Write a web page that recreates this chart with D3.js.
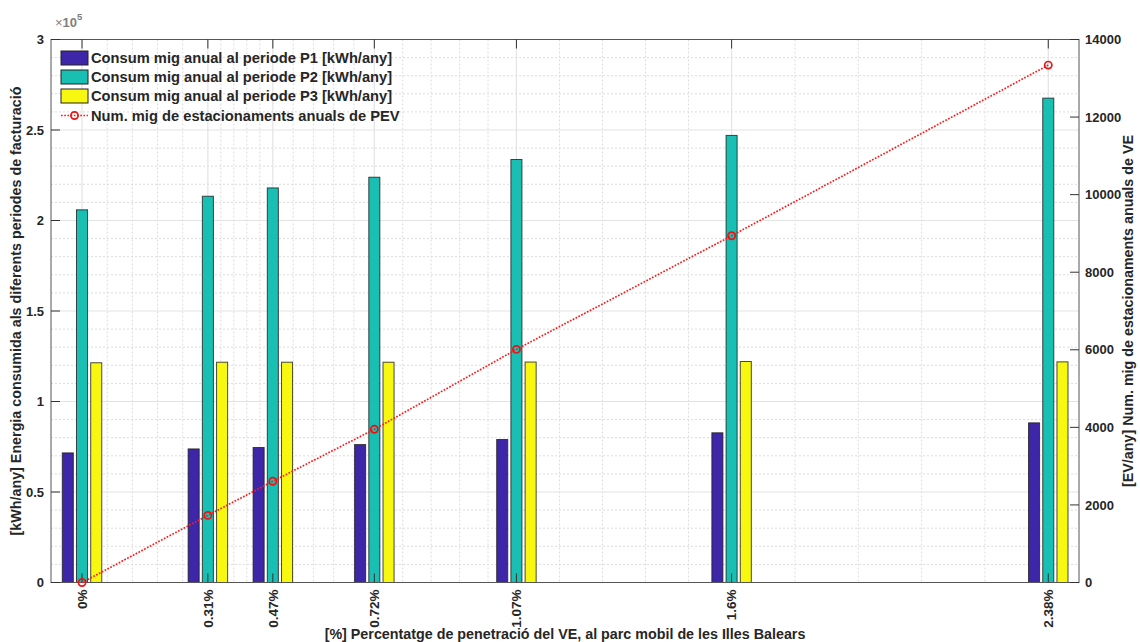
<!DOCTYPE html>
<html>
<head>
<meta charset="utf-8">
<script src="https://cdn.jsdelivr.net/npm/d3@7"></script>
<style>
  body { margin: 0; background: #fff; }
  svg { display: block; }
  text { font-family: "Liberation Sans", Arial, Helvetica, sans-serif; font-weight: bold; fill: #262626; }
</style>
</head>
<body>
<svg id="chart" width="1140" height="642"></svg>
<script>
// Penetration of EVs in the Balearic vehicle fleet (%)
const penetration = [0, 0.31, 0.47, 0.72, 1.07, 1.6, 2.38];
const xTickLabels = ["0%", "0.31%", "0.47%", "0.72%", "1.07%", "1.6%", "2.38%"];

// Average yearly consumption per tariff period (x10^5 kWh/any)
const consumP1 = [0.716, 0.738, 0.746, 0.762, 0.790, 0.827, 0.882];
const consumP2 = [2.059, 2.134, 2.180, 2.239, 2.337, 2.470, 2.676];
const consumP3 = [1.214, 1.217, 1.217, 1.217, 1.218, 1.221, 1.219];

// Average number of yearly PEV parkings (right axis)
const parkings = [0, 1730, 2610, 3950, 6010, 8940, 13340];

const leftTicks = [0, 0.5, 1, 1.5, 2, 2.5, 3];
const rightTicks = [0, 2000, 4000, 6000, 8000, 10000, 12000, 14000];

const seriesNames = [
  "Consum mig anual al periode P1 [kWh/any]",
  "Consum mig anual al periode P2 [kWh/any]",
  "Consum mig anual al periode P3 [kWh/any]"
];
const lineName = "Num. mig de estacionaments anuals de PEV";
const seriesColors = ["#3e26a8", "#19bfb3", "#f7f70f"];

const svg = d3.select("#chart");
const plot = { left: 51, right: 1079, top: 39.5, bottom: 582.5 };

const x = d3.scaleLinear().domain([-0.0764, 2.4557]).range([plot.left, plot.right]);
const yL = d3.scaleLinear().domain([0, 3]).range([plot.bottom, plot.top]);
const yR = d3.scaleLinear().domain([0, 14000]).range([plot.bottom, plot.top]);

// ---- grid ----
const grid = svg.append("g");
// minor horizontal grid every 0.1
d3.range(1, 30).filter(i => i % 5 !== 0).forEach(i => {
  grid.append("line")
    .attr("x1", plot.left).attr("x2", plot.right)
    .attr("y1", yL(i / 10)).attr("y2", yL(i / 10))
    .attr("stroke", "#dcdcdc").attr("stroke-width", 1).attr("stroke-dasharray", "2,2");
});
// minor vertical grid: each interval between ticks split in five
const minorX = [];
for (let k = 0; k < penetration.length - 1; k++) {
  for (let j = 1; j < 5; j++) minorX.push(penetration[k] + (penetration[k + 1] - penetration[k]) * j / 5);
}
minorX.forEach(v => {
  grid.append("line")
    .attr("x1", x(v)).attr("x2", x(v))
    .attr("y1", plot.top).attr("y2", plot.bottom)
    .attr("stroke", "#dcdcdc").attr("stroke-width", 1).attr("stroke-dasharray", "2,2");
});
// major grid
leftTicks.slice(1, -1).forEach(v => {
  grid.append("line")
    .attr("x1", plot.left).attr("x2", plot.right)
    .attr("y1", yL(v)).attr("y2", yL(v))
    .attr("stroke", "#e3e3e3").attr("stroke-width", 1.2);
});
penetration.forEach(v => {
  grid.append("line")
    .attr("x1", x(v)).attr("x2", x(v))
    .attr("y1", plot.top).attr("y2", plot.bottom)
    .attr("stroke", "#e3e3e3").attr("stroke-width", 1.2);
});

// ---- bars ----
const barW = 0.0272;      // bar width in x units
const groupStep = 0.035;  // distance between bars of a group
const series = [consumP1, consumP2, consumP3];
series.forEach((vals, s) => {
  svg.append("g").selectAll("rect")
    .data(vals.map((v, i) => ({ x: penetration[i], v })))
    .join("rect")
    .attr("x", d => x(d.x + (s - 1) * groupStep - barW / 2))
    .attr("width", d => x(barW) - x(0))
    .attr("y", d => yL(d.v))
    .attr("height", d => yL(0) - yL(d.v))
    .attr("fill", seriesColors[s])
    .attr("stroke", "#1e1e1e")
    .attr("stroke-opacity", 0.8)
    .attr("stroke-width", 1);
});

// ---- axes box and ticks ----
const axisColor = "#555";
const box = svg.append("g");
box.append("rect")
  .attr("x", plot.left).attr("y", plot.top)
  .attr("width", plot.right - plot.left).attr("height", plot.bottom - plot.top)
  .attr("fill", "none").attr("stroke", axisColor).attr("stroke-width", 1);

// x ticks: inside, bottom and top
penetration.forEach(v => {
  box.append("line").attr("x1", x(v)).attr("x2", x(v))
    .attr("y1", plot.bottom).attr("y2", plot.bottom - 9).attr("stroke", "#333");
  box.append("line").attr("x1", x(v)).attr("x2", x(v))
    .attr("y1", plot.top).attr("y2", plot.top + 9).attr("stroke", "#333");
});
// left ticks
leftTicks.forEach(v => {
  box.append("line").attr("x1", plot.left).attr("x2", plot.left + 9)
    .attr("y1", yL(v)).attr("y2", yL(v)).attr("stroke", "#333");
});
// right ticks
rightTicks.forEach(v => {
  box.append("line").attr("x1", plot.right).attr("x2", plot.right - 9)
    .attr("y1", yR(v)).attr("y2", yR(v)).attr("stroke", "#333");
});

// ---- line series on right axis ----
const line = d3.line().x((d, i) => x(penetration[i])).y(d => yR(d));
svg.append("path")
  .datum(parkings)
  .attr("d", line)
  .attr("fill", "none")
  .attr("stroke", "#ff1a1a")
  .attr("stroke-width", 1.7)
  .attr("stroke-dasharray", "1.7,1.5");
svg.append("g").selectAll("circle")
  .data(parkings)
  .join("circle")
  .attr("cx", (d, i) => x(penetration[i]))
  .attr("cy", d => yR(d))
  .attr("r", 3.6)
  .attr("fill", "none")
  .attr("stroke", "#ee1111")
  .attr("stroke-width", 1.7);

// ---- tick labels ----
const labels = svg.append("g");
leftTicks.forEach(v => {
  labels.append("text")
    .attr("x", plot.left - 7).attr("y", yL(v)).attr("dy", "0.36em")
    .attr("text-anchor", "end").attr("font-size", 13)
    .text(d3.format("~g")(v));
});
rightTicks.forEach(v => {
  labels.append("text")
    .attr("x", plot.right + 6).attr("y", yR(v)).attr("dy", "0.36em")
    .attr("text-anchor", "start").attr("font-size", 13)
    .text(v);
});
penetration.forEach((v, i) => {
  labels.append("text")
    .attr("transform", `translate(${x(v)},${plot.bottom + 7}) rotate(-90)`)
    .attr("dy", "0.36em")
    .attr("text-anchor", "end").attr("font-size", 13.5)
    .text(xTickLabels[i]);
});

// exponent marker for left axis
const expo = labels.append("text").attr("x", 55).attr("y", 27).attr("font-size", 13)
  .style("fill", "#808080").style("font-weight", "normal");
expo.append("tspan").text("×");
expo.append("tspan").style("font-weight", "bold").text("10");
expo.append("tspan").attr("dy", -7).attr("font-size", 9.5).style("font-weight", "bold").text("5");

// axis titles
labels.append("text")
  .attr("x", (plot.left + plot.right) / 2).attr("y", 639)
  .attr("text-anchor", "middle").attr("font-size", 14.3)
  .text("[%] Percentatge de penetració del VE, al parc mobil de les Illes Balears");
labels.append("text")
  .attr("transform", `translate(21,${(plot.top + plot.bottom) / 2}) rotate(-90)`)
  .attr("text-anchor", "middle").attr("font-size", 14.3)
  .text("[kWh/any] Energia consumida als diferents periodes de facturació");
labels.append("text")
  .attr("transform", `translate(1133,${(plot.top + plot.bottom) / 2}) rotate(-90)`)
  .attr("text-anchor", "middle").attr("font-size", 14.3)
  .text("[EV/any] Num. mig de estacionaments anuals de VE");

// ---- legend ----
const legend = svg.append("g").attr("transform", "translate(61,58)");
const rowH = 19;
seriesNames.forEach((name, i) => {
  const g = legend.append("g").attr("transform", `translate(0,${i * rowH})`);
  g.append("rect").attr("x", 0).attr("y", -7).attr("width", 27).attr("height", 14)
    .attr("fill", seriesColors[i]).attr("stroke", "#222").attr("stroke-width", 1);
  g.append("text").attr("x", 30).attr("dy", "0.36em").attr("font-size", 14.7).text(name);
});
const lg = legend.append("g").attr("transform", `translate(0,${3 * rowH + 0.5})`);
lg.append("line").attr("x1", 0).attr("x2", 27).attr("y1", 0).attr("y2", 0)
  .attr("stroke", "#ff1a1a").attr("stroke-width", 1.7).attr("stroke-dasharray", "1.7,1.5");
lg.append("circle").attr("cx", 13.5).attr("cy", 0).attr("r", 3.6)
  .attr("fill", "none").attr("stroke", "#ee1111").attr("stroke-width", 1.7);
lg.append("text").attr("x", 30).attr("dy", "0.36em").attr("font-size", 14.7).text(lineName);
</script>
</body>
</html>
